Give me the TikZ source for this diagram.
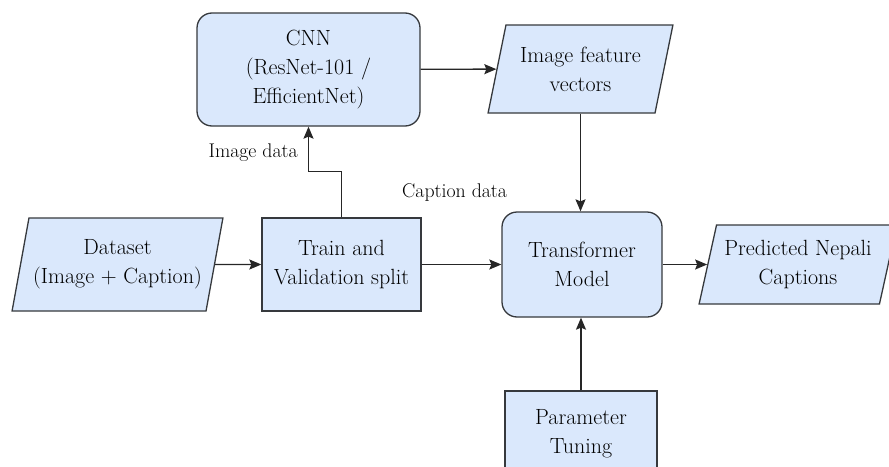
\documentclass[tikz,border=0pt]{standalone}
\usetikzlibrary{
    arrows.meta,
    positioning,
    shapes.geometric
}
\definecolor{boxblue}{HTML}{DAE8FC}
\definecolor{boxline}{HTML}{36393D}
\tikzset{
    % Colors
    box color/.style={draw=boxline,fill=boxblue},
    line color/.style={draw=black!85},
    %
    % Nodes
    box/.style={box color,line width=1.3pt,inner sep=0pt,align=center,minimum width=#1},
    box/.default=150pt,
    round box/.style={box=#1,rounded corners=15pt},
    round box/.default=150pt,
    data box/.style={box=#1,trapezium,trapezium left angle=72,trapezium right angle=108,trapezium stretches=true},
    data box/.default=150pt,
    flow label/.style={font=\fontsize{19.8}{22}\selectfont,inner sep=0pt},
    %
    % Arrows
    arrow tip/.tip={Stealth[length=12pt,width=10pt,inset=2pt]},
    arr/.style={->,>={arrow tip},line color,line width=1.4pt}
}
\tikzstyle{every node}=[font=\fontsize{22}{29}\selectfont]

\begin{document}
\begin{tikzpicture}[x=1pt,y=-1pt]
        \useasboundingbox (0,0) rectangle (889,466);
        \node[data box=211pt,minimum height=93pt] (dataset) at (117.5,264.5) {Dataset\\(Image + Caption)};
        \node[box=159pt,minimum height=93pt] (split) at (341.5,264.5) {Train and\\Validation split};
        \node[round box=223pt,minimum height=113pt] (cnn) at (308.5,69.5) {CNN\\(ResNet-101 /\\EfficientNet)};
        \node[data box=185pt,minimum height=88pt] (features) at (580.5,69) {Image feature\\vectors};
        \node[round box=160pt,minimum height=105pt] (transformer) at (582,264.5) {Transformer\\Model};
        \node[data box=198pt,minimum height=79pt] (captions) at (798,264.5) {Predicted Nepali\\Captions};
        \node[box=152pt,minimum height=86pt] (tuning) at (581,434) {Parameter\\Tuning};
        \node[flow label,anchor=base east] (imagedata) at (298,157) {Image data};
        \node[flow label,anchor=base west] (captiondata) at (402,197) {Caption data};
        \draw[arr] (dataset) -- (split);
        \draw[arr] (split.north) -- ++(0,-46) -| (cnn.south);
        \draw[arr] (cnn) -- (features);
        \draw[arr] (split) -- (transformer);
        \draw[arr] (features.south) -- (features.south |- transformer.north);
        \draw[arr] (transformer) -- (captions);
        \draw[arr] (tuning.north) -- (tuning.north |- transformer.south);
    \end{tikzpicture}
\end{document}
